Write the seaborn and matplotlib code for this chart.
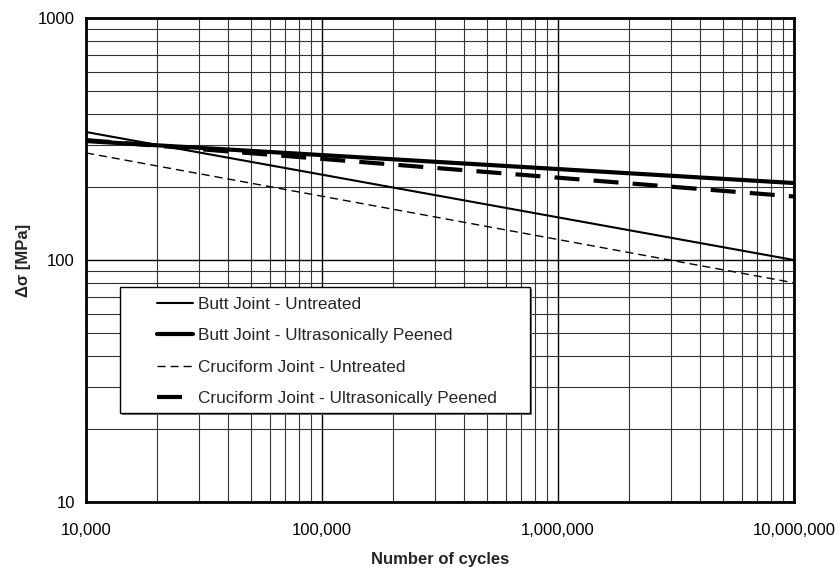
import numpy as np
import pandas as pd
import matplotlib
matplotlib.use("Agg")
import matplotlib.pyplot as plt
from matplotlib.patches import Rectangle
from matplotlib.ticker import FuncFormatter, LogLocator, NullFormatter
import seaborn as sns

# S-N curve endpoints
cycles = [1e4, 1e7]
butt_untreated = [338, 100]
butt_peened = [310, 208]
cruciform_untreated = [277, 80.5]
cruciform_peened = [313, 183]

labels = [
    "Butt Joint - Untreated",
    "Butt Joint - Ultrasonically Peened",
    "Cruciform Joint - Untreated",
    "Cruciform Joint - Ultrasonically Peened",
]
series = [butt_untreated, butt_peened, cruciform_untreated, cruciform_peened]
styles = [
    dict(lw=1.5),
    dict(lw=3.0),
    dict(lw=1.0, dashes=(5.8, 3.6)),
    dict(lw=3.0, dashes=(6.0, 3.4)),
]

sns.set_style("white")
plt.rcParams["font.family"] = ["Liberation Sans", "DejaVu Sans"]

fig = plt.figure(figsize=(8.4, 5.7), dpi=100)
ax = fig.add_axes([0.1024, 0.1193, 0.8428, 0.8491])

for name, vals, st in zip(labels, series, styles):
    df = pd.DataFrame({"cycles": cycles, "stress": vals})
    sns.lineplot(data=df, x="cycles", y="stress", ax=ax, color="black",
                 linewidth=st["lw"], label=name)
    if "dashes" in st:
        ax.lines[-1].set_dashes(st["dashes"])

ax.set_xscale("log")
ax.set_yscale("log")
ax.set_xlim(1e4, 1e7)
ax.set_ylim(10, 1000)

ax.xaxis.set_major_locator(LogLocator(base=10))
ax.yaxis.set_major_locator(LogLocator(base=10))
ax.xaxis.set_minor_locator(LogLocator(base=10, subs=np.arange(2, 10)))
ax.yaxis.set_minor_locator(LogLocator(base=10, subs=np.arange(2, 10)))
ax.xaxis.set_major_formatter(FuncFormatter(lambda v, p: f"{v:,.0f}"))
ax.yaxis.set_major_formatter(FuncFormatter(lambda v, p: f"{v:.0f}"))
ax.xaxis.set_minor_formatter(NullFormatter())
ax.yaxis.set_minor_formatter(NullFormatter())

ax.grid(which="major", color="black", linewidth=1.0)
ax.grid(which="minor", color="#333333", linewidth=0.8)
ax.set_axisbelow(True)
ax.tick_params(which="both", length=0, labelsize=12, colors="black")
ax.tick_params(axis="x", pad=15)
ax.tick_params(axis="y", pad=8)

for sp in ax.spines.values():
    sp.set_color("black")
    sp.set_linewidth(2)

ax.set_xlabel("Number of cycles", fontsize=12, fontweight="bold", labelpad=10)
ax.set_ylabel("Δσ [MPa]", fontsize=12, fontweight="bold", labelpad=5)

# legend box with a small drop shadow
bx, by, bw, bh = 0.048, 0.184, 0.579, 0.260
shadow = Rectangle((bx + 0.003, by - 0.0045), bw, bh, transform=ax.transAxes,
                   facecolor="#777777", edgecolor="none", zorder=3.9)
box = Rectangle((bx, by), bw, bh, transform=ax.transAxes,
                facecolor="white", edgecolor="black", linewidth=1.0, zorder=4)
ax.add_patch(shadow)
ax.add_patch(box)

leg = ax.legend(loc="upper left", bbox_to_anchor=(0.100, 0.424), frameon=False,
                fontsize=12.4, handlelength=2.1, handletextpad=0.3,
                labelspacing=0.95, borderpad=0, borderaxespad=0)
leg.set_zorder(5)

fig.savefig("out.png", dpi=100)
